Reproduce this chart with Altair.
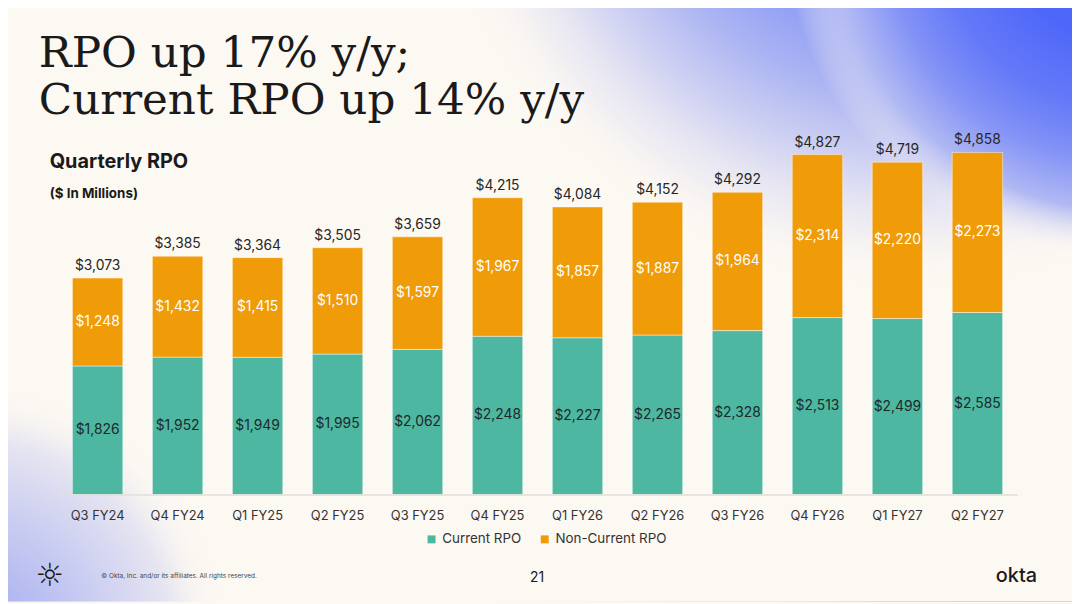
import altair as alt
import pandas as pd

# data ($ in millions)
quarters = ["Q3 FY24", "Q4 FY24", "Q1 FY25", "Q2 FY25", "Q3 FY25", "Q4 FY25",
            "Q1 FY26", "Q2 FY26", "Q3 FY26", "Q4 FY26", "Q1 FY27", "Q2 FY27"]
current_rpo = [1826, 1952, 1949, 1995, 2062, 2248, 2227, 2265, 2328, 2513, 2499, 2585]
noncurrent_rpo = [1248, 1432, 1415, 1510, 1597, 1967, 1857, 1887, 1964, 2314, 2220, 2273]
total_rpo = [3073, 3385, 3364, 3505, 3659, 4215, 4084, 4152, 4292, 4827, 4719, 4858]
series = ["Current RPO", "Non-Current RPO"]
series_colors = ["#4db7a2", "#f09b08"]

CREAM = "#fcf8f2"
DARK = "#262626"
FADE = "rgba(252,248,242,0)"

long_df = pd.DataFrame({
    "quarter": quarters * 2,
    "series": [series[0]] * len(quarters) + [series[1]] * len(quarters),
    "rank": [0] * len(quarters) + [1] * len(quarters),
    "value": current_rpo + noncurrent_rpo,
})
totals_df = pd.DataFrame({"quarter": quarters, "total": total_rpo})
one_row = pd.DataFrame({"k": [0]})

x_enc = alt.X(
    "quarter:N", sort=quarters,
    scale=alt.Scale(paddingInner=0.37, paddingOuter=0.185),
    axis=alt.Axis(title=None, labelAngle=0, ticks=False, labelFont="Inter",
                  labelFontSize=13, labelColor="#333333", labelPadding=15,
                  domainColor="#e2dfda", domainWidth=1.5, zindex=1),
)
y_scale = alt.Scale(domain=[0, 5200], nice=False, zero=True)


# slide background washes (radial gradients are laid out on a square that
# covers the slide, so y runs from 0.22 at the top edge to 0.78 at the bottom)
def wash(cx, cy, r, stops):
    grad = alt.RadialGradient(
        gradient="radial", x1=cx, y1=cy, r1=0, x2=cx, y2=cy, r2=r,
        stops=[alt.GradientStop(offset=o, color=c) for o, c in stops])
    return alt.Chart(one_row).mark_rect(color=grad).encode(
        x=alt.value(-58), x2=alt.value(1022), y=alt.value(-127), y2=alt.value(477))


blue_wide = wash(0.85, 0.035, 0.45, [(0, "#7088f7"), (0.45, "#8a9af5"), (0.6, "#aab3f3"),
                                     (0.78, "#d8d9f2"), (0.9, "rgba(236,234,243,0.6)"), (1, FADE)])
blue_core = wash(1.046, 0.146, 0.315, [(0, "#4a63f9"), (0.35, "#4f67f9"), (0.55, "#6479f8"),
                                       (0.7, "#8292f6"), (0.85, "#b0b8f3"), (1, FADE)])
lilac = wash(-0.03, 0.82, 0.24, [(0, "#a0a8f1"), (0.3, "#b7bcf1"), (0.55, "#cdd0f1"),
                                 (0.8, "#e6e5f1"), (1, FADE)])

bars = alt.Chart(long_df).mark_bar(stroke="#ffffff", strokeOpacity=0.45, strokeWidth=1).encode(
    x=x_enc,
    y=alt.Y("value:Q", stack="zero", scale=y_scale, axis=None),
    color=alt.Color("series:N", scale=alt.Scale(domain=series, range=series_colors),
                    legend=alt.Legend(title=None, orient="none", legendX=370, legendY=407,
                                      direction="horizontal", symbolType="square",
                                      symbolSize=64, symbolStrokeWidth=0,
                                      labelFont="Inter", labelFontSize=13.5,
                                      labelColor="#333333", columnPadding=16,
                                      labelOffset=4)),
    order=alt.Order("rank:Q"),
)

segment_labels = alt.Chart(long_df).transform_stack(
    stack="value", groupby=["quarter"], as_=["v0", "v1"],
    sort=[alt.SortField("rank")]
).transform_calculate(
    mid="(datum.v0 + datum.v1) / 2"
).mark_text(font="Inter", fontSize=14, baseline="middle").encode(
    x=x_enc,
    y=alt.Y("mid:Q", scale=y_scale, axis=None),
    text=alt.Text("value:Q", format="$,.0f"),
    color=alt.condition("datum.series == 'Current RPO'", alt.value("#1d2927"), alt.value("#ffffff")),
)

total_labels = alt.Chart(totals_df).mark_text(
    font="Inter", fontSize=14, baseline="alphabetic", dy=-8, color=DARK
).encode(
    x=x_enc,
    y=alt.Y("total:Q", scale=y_scale, axis=None),
    text=alt.Text("total:Q", format="$,.0f"),
)


def note(text, x, y, **style):
    return alt.Chart(one_row).mark_text(**style).encode(
        x=alt.value(x), y=alt.value(y), text=alt.value(text))


headline_1 = note("RPO up 17% y/y;", -19, -62, font="DejaVu Serif", fontSize=44,
                  align="left", baseline="alphabetic", color="#1a1a1a")
headline_2 = note("Current RPO up 14% y/y", -19, -14, font="DejaVu Serif", fontSize=44,
                  align="left", baseline="alphabetic", color="#1a1a1a")
chart_title = note("Quarterly RPO", -8, 40, font="Inter", fontSize=20, fontWeight="bold",
                   align="left", baseline="alphabetic", color="#1a1a1a")
units = note("($ In Millions)", -8, 70, font="Inter", fontSize=13.5, fontWeight="bold",
             align="left", baseline="alphabetic", color="#1a1a1a")
logo_mark = note("☼", -8, 451, font="DejaVu Sans", fontSize=32, fontWeight="bold",
                 align="center", baseline="middle", color="#1a1a1a")
copyright_note = note("© Okta, Inc. and/or its affiliates. All rights reserved.", 44, 451,
                      font="Inter", fontSize=6.5, align="left", baseline="middle",
                      color="#444444")
page_no = note("21", 483, 453, font="Inter", fontSize=14, align="center",
               baseline="middle", color="#1a1a1a")
wordmark = note("okta", 966, 451, font="Inter", fontSize=20, fontWeight=500,
                align="center", baseline="middle", color="#1a1a1a")

chart = alt.layer(
    blue_wide, blue_core, lilac, bars, segment_labels, total_labels,
    headline_1, headline_2, chart_title, units,
    logo_mark, copyright_note, page_no, wordmark,
).properties(
    width=967, height=369,
    padding={"left": 50, "top": 119, "right": 55, "bottom": 108},
    autosize=alt.AutoSizeParams(type="none"),
).configure(background=CREAM).configure_view(stroke=None)

chart.save("out.html", embed_options={"renderer": "svg", "actions": False})
